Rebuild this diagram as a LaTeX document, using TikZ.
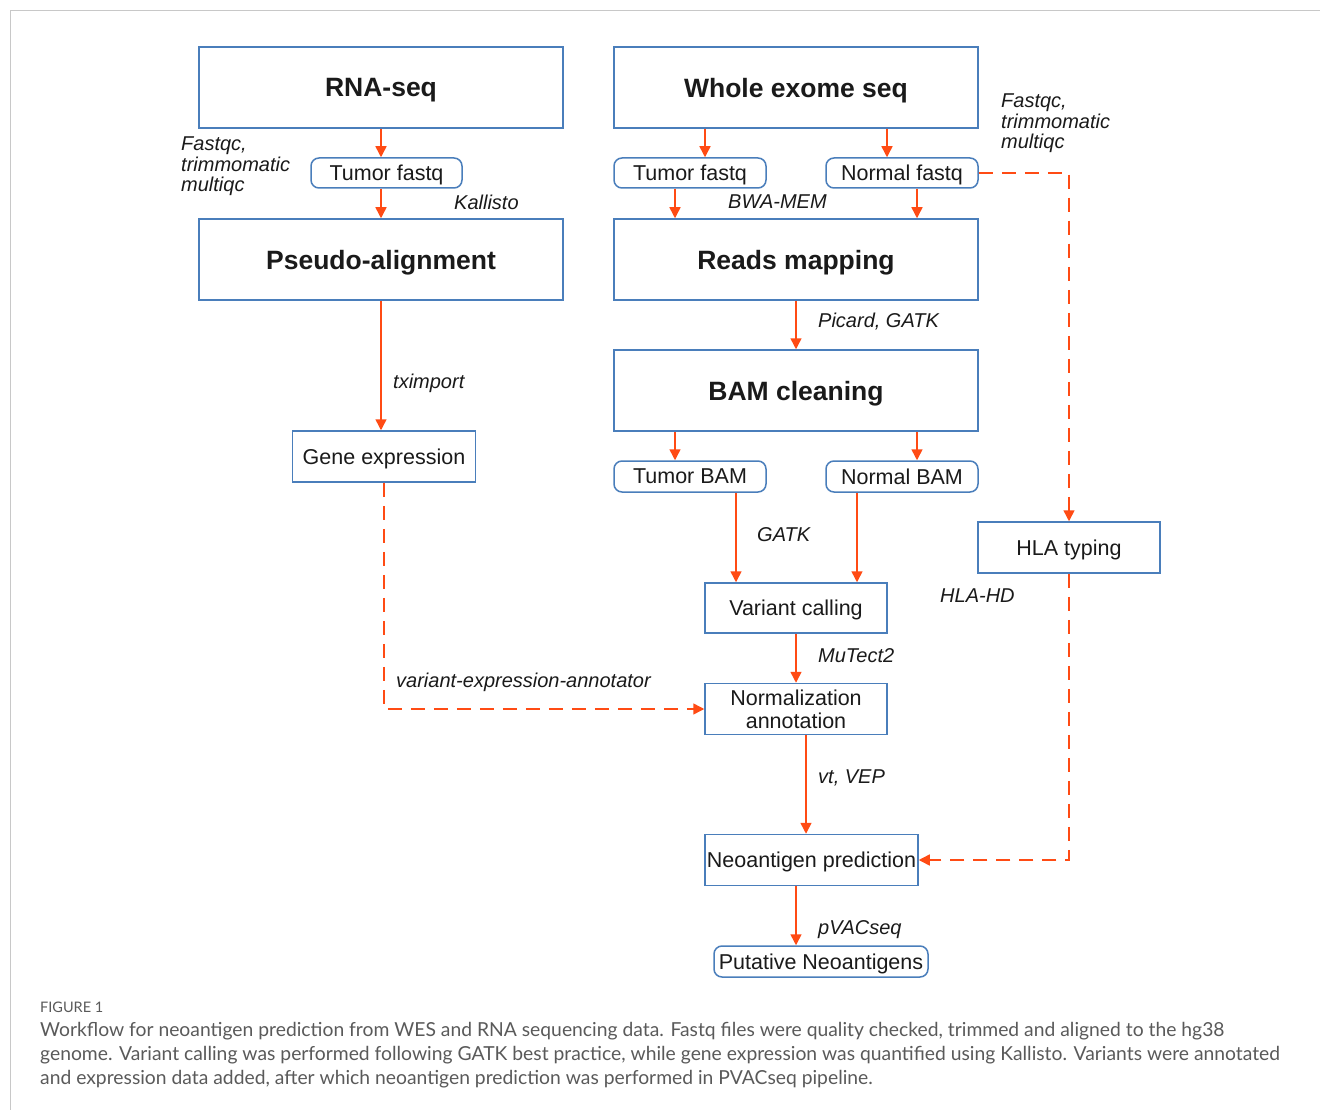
\documentclass[tikz,border=0pt]{standalone}
\usepackage{fontspec}
\setmainfont{Liberation Sans}
\newfontfamily\capfont{Lato}
\usetikzlibrary{arrows.meta,calc}
\definecolor{bcol}{HTML}{4A7EBB}
\definecolor{ocol}{HTML}{FF4B14}
\definecolor{tcol}{HTML}{1A1A1A}
\definecolor{capcol}{HTML}{5A5A5A}
\definecolor{framecol}{HTML}{C8C8C8}
\begin{document}
\begin{tikzpicture}[x=1pt,y=-1pt,
  box/.style={draw=bcol,line width=1.5pt,rectangle,inner sep=0pt,text=tcol,text depth=0pt,
    font=\fontsize{21.5}{24}\selectfont},
  bigbox/.style={box,minimum width=364pt,minimum height=81pt,
    font=\fontsize{26.5}{30}\selectfont\bfseries},
  rbox/.style={box,rounded corners=8pt,minimum height=30pt},
  mbox/.style={box,minimum width=182pt,minimum height=51pt},
  lbl/.style={inner sep=0pt,anchor=west,text=tcol,align=left,
    font=\fontsize{20}{20.5}\selectfont\itshape},
  arr/.style={draw=ocol,line width=1.5pt,-{Triangle[length=11pt,width=11pt]}},
  darr/.style={arr,dash pattern=on 14pt off 9pt}]
\useasboundingbox (0,0) rectangle (1320,1110);
\fill[white] (0,0) rectangle (1320,1110);
\draw[framecol,line width=1pt] (1320,11) -- (10,11) -- (10,1110);

% boxes
\node[bigbox] (rna) at (381,87.5) {RNA-seq};
\node[bigbox] (wes) at (796,87.5) {Whole exome seq};
\node[rbox,minimum width=151pt] (tf1) at (386.5,173) {Tumor fastq};
\node[rbox,minimum width=152pt] (tf2) at (690,173) {Tumor fastq};
\node[rbox,minimum width=152pt] (nf) at (902,173) {Normal fastq};
\node[bigbox] (pseudo) at (381,259.5) {Pseudo-alignment};
\node[bigbox] (reads) at (796,259.5) {Reads mapping};
\node[bigbox] (bam) at (796,390.5) {BAM cleaning};
\node[mbox,minimum width=183pt] (gene) at (384,456.5) {Gene expression};
\node[rbox,minimum width=152pt,minimum height=31pt] (tbam) at (690,476.5) {Tumor BAM};
\node[rbox,minimum width=152pt,minimum height=31pt] (nbam) at (902,476.5) {Normal BAM};
\node[mbox] (hla) at (1069,547.5) {HLA typing};
\node[mbox,minimum height=50pt] (vc) at (796,608) {Variant calling};
\node[mbox,align=center,font=\fontsize{21.5}{23}\selectfont] (norm) at (796,709) {Normalization\\annotation};
\node[mbox,minimum width=213pt] (neo) at (811.5,860) {Neoantigen prediction};
\node[rbox,minimum width=214pt,minimum height=31pt] (put) at (821,961.5) {Putative Neoantigens};

% arrows
\draw[arr] (rna.south) -- (rna.south |- tf1.north);
\draw[arr] (tf1.south -| pseudo.north) -- (pseudo.north);
\draw[arr] ([xshift=15pt]tf2.north |- wes.south) -- ([xshift=15pt]tf2.north);
\draw[arr] ([xshift=-15pt]nf.north |- wes.south) -- ([xshift=-15pt]nf.north);
\draw[arr] ([xshift=-15pt]tf2.south) -- ([xshift=-15pt]tf2.south |- reads.north);
\draw[arr] ([xshift=15pt]nf.south) -- ([xshift=15pt]nf.south |- reads.north);
\draw[arr] (reads.south) -- (bam.north);
\draw[arr] ([xshift=-15pt]tbam.north |- bam.south) -- ([xshift=-15pt]tbam.north);
\draw[arr] ([xshift=15pt]nbam.north |- bam.south) -- ([xshift=15pt]nbam.north);
\draw[arr] (pseudo.south) -- (pseudo.south |- gene.north);
\draw[arr] ([xshift=46pt]tbam.south) -- ([xshift=46pt]tbam.south |- vc.north);
\draw[arr] ([xshift=-45pt]nbam.south) -- ([xshift=-45pt]nbam.south |- vc.north);
\draw[arr] (vc.south) -- (norm.north);
\draw[arr] ([xshift=10pt]norm.south) -- ([xshift=10pt]norm.south |- neo.north);
\draw[arr] ([xshift=-15.5pt]neo.south) -- ([xshift=-15.5pt]neo.south |- put.north);
\draw[darr] (nf.east) -| (hla.north);
\draw[darr] (hla.south) |- (neo.east);
\draw[darr] (gene.south) |- (norm.west);

% labels
\node[lbl,anchor=north west] (l1) at (181,137) {Fastqc,\\trimmomatic\\multiqc};
\node[lbl] (l2) at (454,202) {Kallisto};
\node[lbl,anchor=north west] (l3) at (1001,94) {Fastqc,\\trimmomatic\\multiqc};
\node[lbl] (l4) at (728,202) {BWA-MEM};
\node[lbl] (l5) at (818,322) {Picard, GATK};
\node[lbl] (l6) at (393,383) {tximport};
\node[lbl] (l7) at (757,535) {GATK};
\node[lbl] (l8) at (940,596) {HLA-HD};
\node[lbl] (l9) at (818,656) {MuTect2};
\node[lbl] (l10) at (396,682) {variant-expression-annotator};
\node[lbl] (l11) at (818,778) {vt, VEP};
\node[lbl] (l12) at (818,930) {pVACseq};

% caption
\node[anchor=west,inner sep=0pt,text=capcol,font=\capfont\fontsize{14.5}{16}\selectfont] (figlab) at (40,1007) {FIGURE 1};
\node[anchor=north west,inner sep=0pt,text=capcol,align=left,font=\capfont\fontsize{19.3}{24}\selectfont] (cap) at (40,1022)
{Workflow for neoantigen prediction from WES and RNA sequencing data. Fastq files were quality checked, trimmed and aligned to the hg38\\
genome. Variant calling was performed following GATK best practice, while gene expression was quantified using Kallisto. Variants were annotated\\
and expression data added, after which neoantigen prediction was performed in PVACseq pipeline.};
\end{tikzpicture}
\end{document}
